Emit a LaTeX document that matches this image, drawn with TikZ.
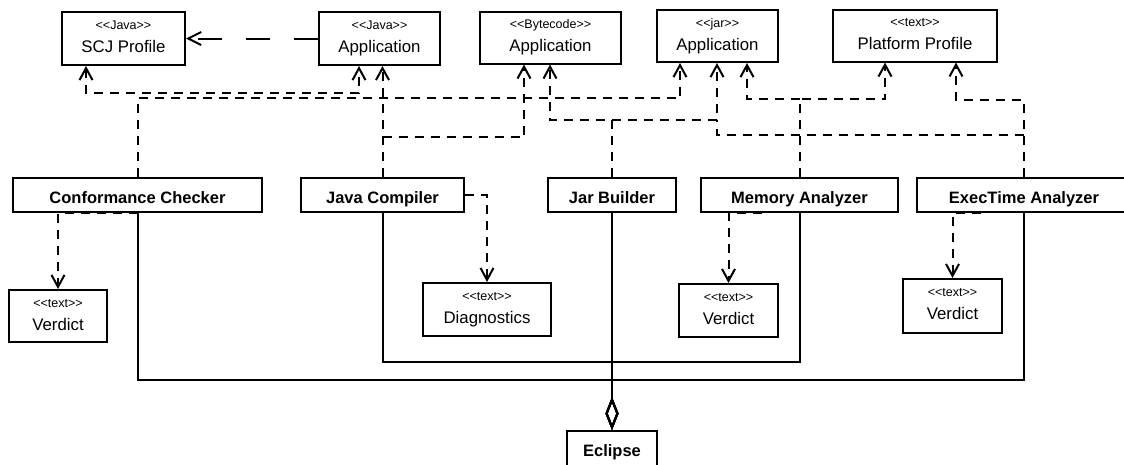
\documentclass[tikz,border=0pt]{standalone}
\usepackage{fontspec}
\setmainfont{Liberation Sans}
\usetikzlibrary{arrows.meta}
\newcommand\st[1]{<\kern0pt<#1>\kern0pt>}
\tikzset{
  ubox/.style={draw, line width=2pt, inner sep=0pt, rectangle, fill=white},
  bbox/.style={ubox, font=\fontsize{16.5}{18}\selectfont\bfseries, text height=16pt, text depth=0pt, minimum height=34pt},
  stereo/.style={anchor=base, inner sep=0pt, font=\fontsize{12.5}{14}\selectfont},
  ttl/.style={anchor=base, inner sep=0pt, font=\fontsize{16.8}{19}\selectfont},
  dline/.style={line width=2pt, dash pattern=on 9pt off 7pt},
  dep/.style={dline, -{Straight Barb[length=12pt,width=13pt]}},
  comp/.style={line width=2pt, -{Diamond[open,length=33pt,width=13pt]}},
}
\newcommand\twobox[6]{%
  \node[ubox, minimum width=#3, minimum height=#4] (#1) at #2 {};
  \node[stereo] (#1-st) at ([yshift=-18pt]#1.north) {\st{#5}};
  \node[ttl] (#1-t) at ([yshift=-41pt]#1.north) {#6};}
\begin{document}
\begin{tikzpicture}[x=1pt,y=-1pt]
\fill[white] (0,0) rectangle (1124,464);
\useasboundingbox (0,0) rectangle (1124,464);
% top row
\twobox{scj}{(123.5,38.5)}{123pt}{53pt}{Java}{SCJ Profile}
\twobox{japp}{(379.5,38.5)}{121pt}{53pt}{Java}{Application}
\twobox{bapp}{(550.5,37.5)}{141pt}{52pt}{Bytecode}{Application}
\twobox{jarapp}{(717.5,36)}{121pt}{52pt}{jar}{Application}
\twobox{pp}{(915,35.5)}{164pt}{52pt}{text}{Platform Profile}
% tools
\node[bbox, minimum width=249pt] (cc) at (137.5,195) {Conformance Checker};
\node[bbox, minimum width=163pt] (jc) at (382.5,195) {Java Compiler};
\node[bbox, minimum width=128pt] (jb) at (612,195) {Jar Builder};
\node[bbox, minimum width=197pt] (ma) at (799.5,195) {Memory Analyzer};
\node[bbox, minimum width=214pt] (et) at (1024,195) {ExecTime Analyzer};
% outputs
\twobox{vone}{(58,316)}{98pt}{52pt}{text}{Verdict}
\twobox{diag}{(487,309.5)}{128pt}{53pt}{text}{Diagnostics}
\twobox{vtwo}{(728.5,310.5)}{99pt}{53pt}{text}{Verdict}
\twobox{vthree}{(952.5,306)}{99pt}{54pt}{text}{Verdict}
\node[bbox, minimum width=90pt, minimum height=35pt] (ecl) at (612,448.5) {Eclipse};
% branch points
\coordinate (jcb) at (jc.north |- 0,137);
\coordinate (jbb) at (jb.north |- 0,120);
\coordinate (mab) at (ma.north |- 0,99);
\coordinate (etb) at (et.north |- 0,135);
\coordinate (jarj) at (717,120);
% dependencies
\draw[dep, dash pattern=on 24pt off 24pt, -{Straight Barb[length=13pt,width=13pt]}] (japp.west) -- (scj.east);
\draw[dep, {Straight Barb[length=12pt,width=13pt]}-{Straight Barb[length=12pt,width=13pt]}] (86,0 |- scj.south) |- (359,93) -- (359,0 |- japp.south);
\draw[dep] (cc.north) |- (680,98) -- (680,0 |- jarapp.south);
\draw[dep] (jc.north) -- (jc.north |- japp.south);
\draw[dep] (jcb) -| (524,0 |- bapp.south);
\draw[dep] (jb.north) |- (550,120) -- (550,0 |- bapp.south);
\draw[dep] (jbb) -- (jarj) -- (717,0 |- jarapp.south);
\draw[dline] (etb) -| (jarj);
\draw[dep] (et.north) |- (956,100) -- (956,0 |- pp.south);
\draw[dep] (ma.north) |- (885,99) -- (885,0 |- pp.south);
\draw[dep] (mab) -| (747,0 |- jarapp.south);
\draw[dep] (cc.south) -- (vone.north |- cc.south) -- (vone.north);
\draw[dep] (jc.east) -| (diag.north);
\draw[dep] (762,0 |- ma.south) -| (vtwo.north);
\draw[dep] (981,0 |- et.south) -| (vthree.north);
% composition
\draw[comp] (cc.south) |- (612,380) -- (ecl.north);
\draw[comp] (et.south) |- (612,380) -- (ecl.north);
\draw[comp] (jc.south) |- (612,362) -- (ecl.north);
\draw[comp] (ma.south) |- (612,362) -- (ecl.north);
\draw[comp] (jb.south) -- (ecl.north);
\end{tikzpicture}
\end{document}
